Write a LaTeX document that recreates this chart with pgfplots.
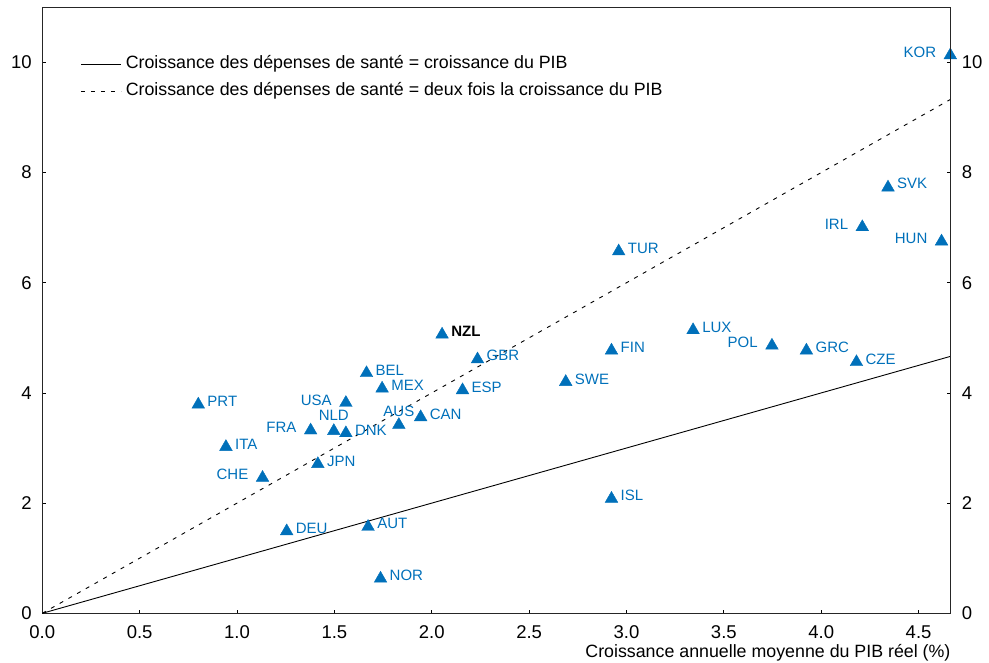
\documentclass[border=0pt]{standalone}
\usepackage{fontspec}
\setmainfont{Liberation Sans}
\usepackage{pgfplots}
\pgfplotsset{compat=1.18}
\usepackage{pgfplotstable}

\definecolor{oecdblue}{RGB}{0,112,186}

% Average annual real GDP growth (x) vs. health spending growth (y), by country
% labelled on the right of the marker
\pgfplotstableread{
name x y dy
SVK 4.343 7.73 4
TUR 2.960 6.57 3
LUX 3.342 5.14 3
GRC 3.924 4.77 3
CZE 4.181 4.56 3
FIN 2.923 4.77 3
GBR 2.235 4.61 4
BEL 1.665 4.36 3
MEX 1.745 4.08 3
ESP 2.158 4.05 3
SWE 2.688 4.20 3
PRT 0.801 3.79 3
CAN 1.943 3.56 3
DNK 1.559 3.27 3
ITA 0.943 3.02 3
JPN 1.415 2.71 3
ISL 2.923 2.08 3
DEU 1.255 1.49 3
AUT 1.673 1.57 3
NOR 1.737 0.63 3
}\labelright
% labelled on the left of the marker
\pgfplotstableread{
name x y dy
KOR 4.663 10.13 3
IRL 4.211 7.01 3
HUN 4.618 6.75 3
POL 3.747 4.86 3
USA 1.559 3.82 3
FRA 1.378 3.32 3
CHE 1.131 2.46 3
}\labelleft
% labelled above the marker
\pgfplotstableread{
name x y dy
AUS 1.831 3.42 8
NLD 1.497 3.31 10
}\labelabove

\pgfplotsset{
  frameaxis/.style={
    scale only axis, width=908.4pt, height=606pt,
    xmin=0, xmax=4.665, ymin=0, ymax=11,
    axis line style={line width=0.9pt, black!85},
    tick align=inside,
    major tick length=3.5pt,
    tick style={line width=0.7pt, black},
    ytick={0,2,...,10},
    /pgf/number format/assume math mode=true,
    tick label style={font=\fontsize{18.5}{20}\selectfont, inner sep=0pt},
  },
  country/.style={only marks, mark=triangle*, mark size=7.3pt, color=oecdblue,
    point meta=explicit symbolic,
    visualization depends on={\thisrow{dy} \as \lbldy},
    nodes near coords,
    every node near coord/.append style={anchor=#1, yshift=\lbldy pt,
      inner sep=0pt, text=oecdblue, font=\fontsize{15}{17}\selectfont}},
}

\begin{document}
\begin{tikzpicture}
\begin{axis}[
  frameaxis,
  clip=false,
  xtick={0,0.5,...,4.5},
  xtick pos=bottom,
  ytick pos=both,
  yticklabel pos=left,
  x tick label style={/pgf/number format/fixed, /pgf/number format/fixed zerofill,
    /pgf/number format/precision=1, anchor=north, yshift=-12.5pt},
  y tick label style={anchor=east, xshift=-10.5pt},
  xlabel={Croissance annuelle moyenne du PIB réel (\%)},
  xlabel style={at={(rel axis cs:1,0)}, anchor=base east, inner sep=0pt,
    yshift=-44.5pt, font=\fontsize{17.8}{20}\selectfont},
  legend style={at={(rel axis cs:0.0423,0.9197)}, anchor=north west,
    draw=none, fill=none, inner sep=0pt, row sep=11pt, column sep=4pt,
    font=\fontsize{17.8}{20}\selectfont,
    nodes={inner sep=0pt, text height=12pt, text depth=4pt}},
  legend cell align=left,
  legend image code/.code={\draw[#1] (0pt,0pt) -- (40pt,0pt);},
]
% reference lines: spending grows as fast as GDP, and twice as fast
\addplot[black, line width=0.9pt] coordinates {(0,0) (4.665,4.665)};
\addplot[black, line width=0.9pt, dash pattern=on 4pt off 6pt] coordinates {(0,0) (4.665,9.33)};
\legend{Croissance des dépenses de santé = croissance du PIB,
        Croissance des dépenses de santé = deux fois la croissance du PIB}

% country markers with labels
\addplot[country=west, every node near coord/.append style={xshift=9pt}]
  table[x=x, y=y, meta=name] {\labelright};
\addplot[country=east, every node near coord/.append style={xshift=-14pt}]
  table[x=x, y=y, meta=name] {\labelleft};
\addplot[country=south] table[x=x, y=y, meta=name] {\labelabove};

% New Zealand highlighted
\addplot[only marks, mark=triangle*, mark size=7.3pt, color=oecdblue,
  nodes near coords={\textbf{NZL}},
  every node near coord/.append style={anchor=west, xshift=9pt, yshift=3pt,
    inner sep=0pt, text=black, font=\fontsize{15}{17}\selectfont},
] coordinates {(2.053,5.06)};
\end{axis}

% right-hand copy of the y axis labels
\begin{axis}[
  frameaxis,
  hide x axis,
  axis y line*=right,
  ytick style={draw=none},
  y tick label style={anchor=west, xshift=11pt},
]
\addplot[draw=none] coordinates {(0,0)};
\end{axis}

\pgfresetboundingbox
\path[use as bounding box] (-42.3pt,-49.7pt) rectangle (946.7pt,613.3pt);
\end{tikzpicture}
\end{document}
